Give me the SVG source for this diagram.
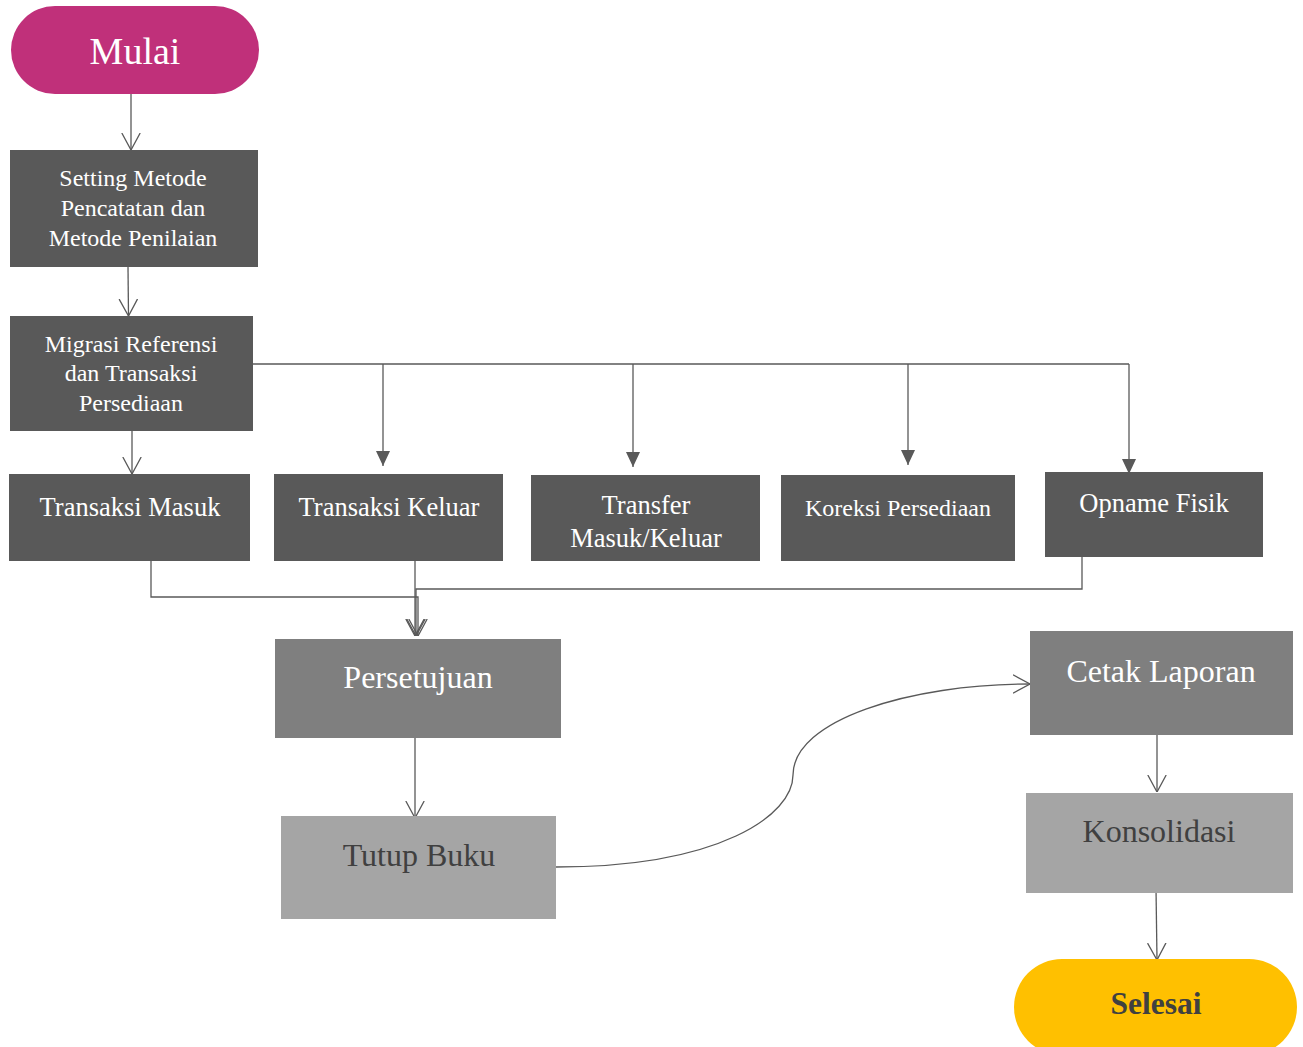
<svg xmlns="http://www.w3.org/2000/svg" width="1303" height="1047" viewBox="0 0 1303 1047">
<style>
text{font-family:"Liberation Serif","Times New Roman",serif;text-anchor:middle}
.dk{fill:#595959}
.md{fill:#7f7f7f}
.lt{fill:#a5a5a5}
.w{fill:#ffffff}
.g{fill:#404040}
.c{fill:none;stroke:#595959;stroke-width:1.3}
</style>
<defs>
<marker id="open" viewBox="0 0 17 20" refX="17" refY="10" markerWidth="17" markerHeight="20" markerUnits="userSpaceOnUse" orient="auto">
<path d="M0,0.8 L17,10 L0,19.2" fill="none" stroke="#595959" stroke-width="1.3"/>
</marker>
<marker id="fill" viewBox="0 0 15 14" refX="15" refY="7" markerWidth="15" markerHeight="14" markerUnits="userSpaceOnUse" orient="auto">
<path d="M0,0 L15,7 L0,14 Z" fill="#595959"/>
</marker>
</defs>
<rect width="1303" height="1047" fill="#ffffff"/>
<g id="connectors">
<path class="c" d="M131,94 V150" marker-end="url(#open)"/>
<path class="c" d="M128,267 L128.5,316" marker-end="url(#open)"/>
<path class="c" d="M132,431 V474" marker-end="url(#open)"/>
<path class="c" d="M253,364 H1129"/>
<path class="c" d="M383,364 V466" marker-end="url(#fill)"/>
<path class="c" d="M633,364 V467" marker-end="url(#fill)"/>
<path class="c" d="M908,364 V465" marker-end="url(#fill)"/>
<path class="c" d="M1129,364 V474" marker-end="url(#fill)"/>
<path class="c" d="M151,561 V597 H418 V636" marker-end="url(#open)"/>
<path class="c" d="M415,561 V636" marker-end="url(#open)"/>
<path class="c" d="M1082,557 V589 H416 V636" marker-end="url(#open)"/>
<path class="c" d="M415,738 V818" marker-end="url(#open)"/>
<path class="c" d="M556,867 C720,867 793,815 793,775 C793,720 910,684 1030,684" marker-end="url(#open)"/>
<path class="c" d="M1157,735 V792" marker-end="url(#open)"/>
<path class="c" d="M1156,888 L1157,960" marker-end="url(#open)"/>
</g>
<g id="mulai">
<rect x="11" y="6" width="248" height="88" rx="44" fill="#c0307a"/>
<text x="135" y="64" font-size="38" class="w">Mulai</text>
</g>
<g id="setting">
<rect x="10" y="150" width="248" height="117" class="dk"/>
<text x="133" y="186" font-size="24" class="w">Setting Metode</text>
<text x="133" y="216" font-size="24" class="w">Pencatatan dan</text>
<text x="133" y="246" font-size="24" class="w">Metode Penilaian</text>
</g>
<g id="migrasi">
<rect x="10" y="316" width="243" height="115" class="dk"/>
<text x="131" y="352" font-size="24" class="w">Migrasi Referensi</text>
<text x="131" y="381" font-size="24" class="w">dan Transaksi</text>
<text x="131" y="411" font-size="24" class="w">Persediaan</text>
</g>
<g id="transaksi-masuk">
<rect x="9" y="474" width="241" height="87" class="dk"/>
<text x="130" y="516" font-size="26.5" class="w">Transaksi Masuk</text>
</g>
<g id="transaksi-keluar">
<rect x="274" y="474" width="229" height="87" class="dk"/>
<text x="389" y="516" font-size="26.5" class="w">Transaksi Keluar</text>
</g>
<g id="transfer">
<rect x="531" y="475" width="229" height="86" class="dk"/>
<text x="646" y="514" font-size="26.5" class="w">Transfer</text>
<text x="646" y="547" font-size="26.5" class="w">Masuk/Keluar</text>
</g>
<g id="koreksi">
<rect x="781" y="475" width="234" height="86" class="dk"/>
<text x="898" y="516" font-size="24" class="w">Koreksi Persediaan</text>
</g>
<g id="opname">
<rect x="1045" y="472" width="218" height="85" class="dk"/>
<text x="1154" y="512" font-size="26.5" class="w">Opname Fisik</text>
</g>
<g id="persetujuan">
<rect x="275" y="639" width="286" height="99" class="md"/>
<text x="418" y="688" font-size="32" class="w">Persetujuan</text>
</g>
<g id="tutup-buku">
<rect x="281" y="816" width="275" height="103" class="lt"/>
<text x="419" y="866" font-size="32" class="g">Tutup Buku</text>
</g>
<g id="cetak-laporan">
<rect x="1030" y="631" width="263" height="104" class="md"/>
<text x="1161" y="682" font-size="32" class="w">Cetak Laporan</text>
</g>
<g id="konsolidasi">
<rect x="1026" y="793" width="267" height="100" class="lt"/>
<text x="1159" y="842" font-size="32" class="g">Konsolidasi</text>
</g>
<g id="selesai">
<rect x="1014" y="959" width="283" height="96" rx="48" fill="#ffc000"/>
<text x="1156" y="1014" font-size="31.5" font-weight="bold" class="g">Selesai</text>
</g>
</svg>
